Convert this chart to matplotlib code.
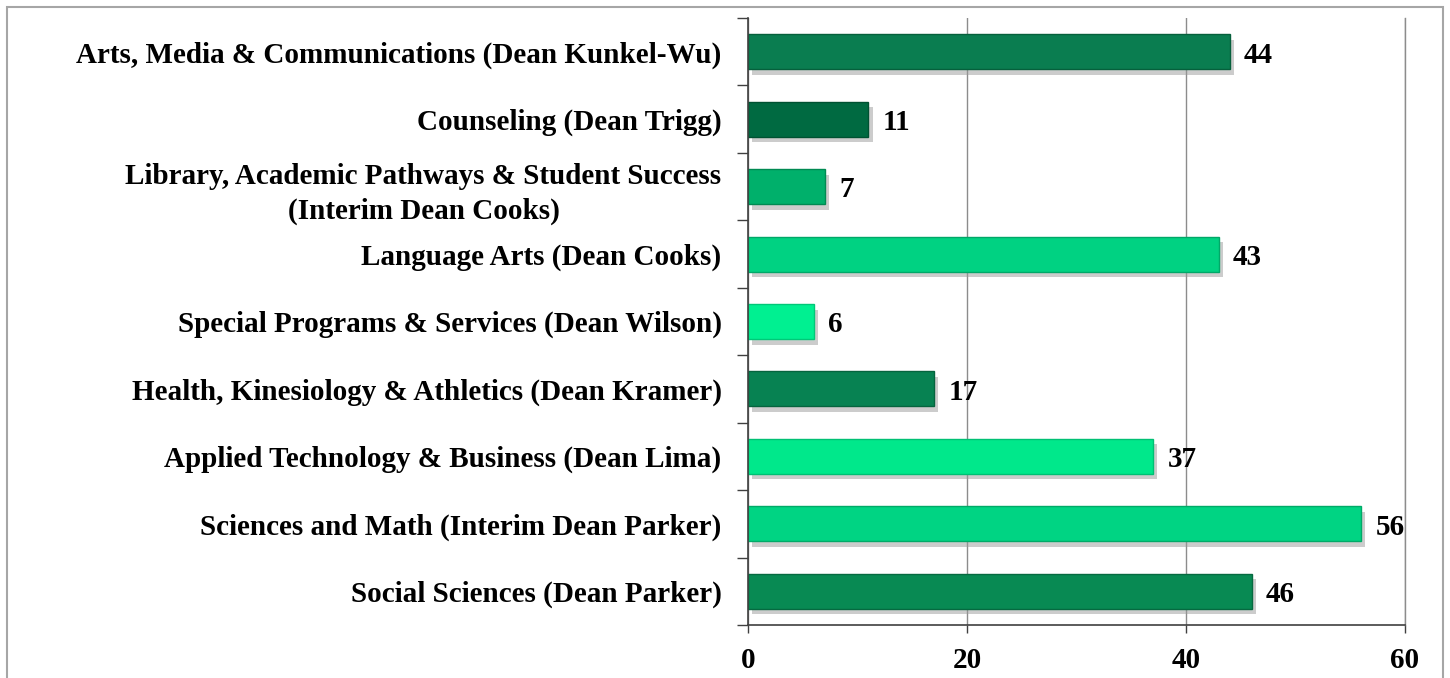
import matplotlib.pyplot as plt
import matplotlib.patheffects as pe
from matplotlib.patches import Rectangle

# data, top to bottom as in the chart
divisions = [
    "Arts, Media & Communications (Dean Kunkel-Wu)",
    "Counseling (Dean Trigg)",
    "Library, Academic Pathways & Student Success\n(Interim Dean Cooks)",
    "Language Arts (Dean Cooks)",
    "Special Programs & Services (Dean Wilson)",
    "Health, Kinesiology & Athletics (Dean Kramer)",
    "Applied Technology & Business (Dean Lima)",
    "Sciences and Math (Interim Dean Parker)",
    "Social Sciences (Dean Parker)",
]
counts = [44, 11, 7, 43, 6, 17, 37, 56, 46]
bar_colors = ["#0a7d50", "#006a41", "#00b06b", "#00d282", "#00f091",
              "#078252", "#00e88b", "#00d483", "#088a53"]
edge_colors = ["#06603c", "#005232", "#008a52", "#00a868", "#00c878",
               "#05643e", "#00c074", "#00aa68", "#066a40"]
x_ticks = [0, 20, 40, 60]

plt.rcParams['font.family'] = ['Liberation Serif', 'DejaVu Serif']
plt.rcParams['font.weight'] = 'bold'

fig = plt.figure(figsize=(14.5, 6.78), dpi=100)
ax = fig.add_axes([748 / 1450, 1 - 625 / 678, (1405 - 748) / 1450, (625 - 18) / 678])

# grey frame around the chart
fig.patches.append(Rectangle((7 / 1450, -0.01), (1443 - 7) / 1450, 1 - 7 / 678 + 0.01,
                             transform=fig.transFigure, fill=False,
                             edgecolor="#a6a6a6", linewidth=1.5))

y = list(range(len(counts)))[::-1]
bars = ax.barh(y, counts, height=0.52, color=bar_colors, edgecolor=edge_colors,
               linewidth=1, zorder=3)
for b in bars:
    b.set_path_effects([pe.SimplePatchShadow(offset=(3, -4), shadow_rgbFace="#9a9a9a",
                                             alpha=0.5), pe.Normal()])

for yi, v in zip(y, counts):
    ax.text(v + 1.3, yi - 0.05, str(v), va="center", ha="left",
            fontsize=21, fontweight="bold", zorder=4)

ax.set_xlim(0, 60)
ax.set_ylim(-0.5, len(counts) - 0.5)
ax.set_xticks(x_ticks)
ax.set_xticklabels([str(t) for t in x_ticks], fontsize=21, fontweight="bold")
ax.tick_params(axis="x", length=6, width=1, color="#404040", pad=10)

ax.set_yticks(y)
ax.set_yticklabels(divisions, fontsize=21, fontweight="bold", linespacing=1.4)
ax.set_yticks([i + 0.5 for i in range(-1, len(counts))], minor=True)
ax.tick_params(axis="y", which="major", length=0, pad=19)
ax.tick_params(axis="y", which="minor", length=8, width=1, color="#404040")
for lab in ax.get_yticklabels():
    lab.set_multialignment("center")

ax.grid(axis="x", color="#8c8c8c", linewidth=1, zorder=0)
ax.spines["top"].set_visible(False)
ax.spines["right"].set_color("#8c8c8c")
ax.spines["right"].set_linewidth(1)
for s in ["left", "bottom"]:
    ax.spines[s].set_color("#404040")
    ax.spines[s].set_linewidth(1.2)
    ax.spines[s].set_zorder(5)

fig.savefig("out.png", dpi=100)
